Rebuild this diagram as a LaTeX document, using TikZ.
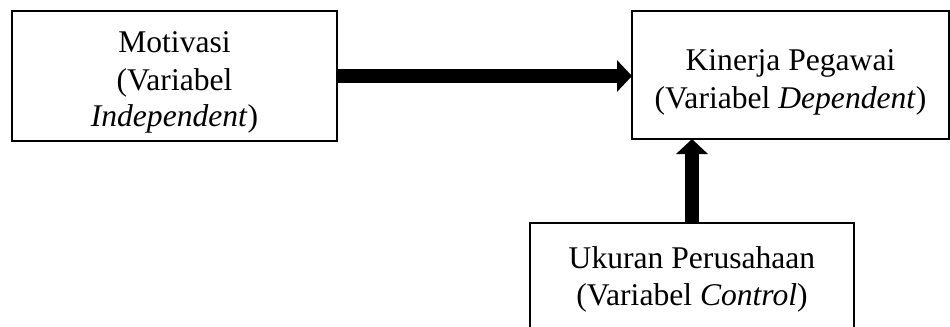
\documentclass[tikz,border=0pt]{standalone}
\usepackage{fontspec}
\setmainfont{Liberation Serif}
\usetikzlibrary{arrows.meta}
\begin{document}
\begin{tikzpicture}[x=0.5pt,y=-0.5pt,
  box/.style={draw, line width=1.2pt, inner sep=0pt, outer sep=0pt},
  txt/.style={anchor=base, inner sep=0pt, font=\fontsize{15.8pt}{19pt}\selectfont},
  bigarrow/.style={line width=7.4pt, -{Triangle[length=7.5pt,width=15.5pt]}}]
\useasboundingbox (0,0) rectangle (950,327);
% boxes
\node[box, minimum width=162.5pt, minimum height=65pt] (mot) at (174.5,76) {};
\node[box, minimum width=158.5pt, minimum height=64pt] (kin) at (790.5,75) {};
\node[box, minimum width=162pt, minimum height=61pt] (uk) at (692,284) {};
% texts
\node[txt] (mot1) at (174.5,52) {Motivasi};
\node[txt] (mot2) at (174.5,90) {(Variabel};
\node[txt] (mot3) at (174.5,126) {\textit{Independent})};
\node[txt] (kin1) at (790.5,70) {Kinerja Pegawai};
\node[txt] (kin2) at (790.5,108) {(Variabel \textit{Dependent})};
\node[txt] (uk1) at (692,268) {Ukuran Perusahaan};
\node[txt] (uk2) at (692,305) {(Variabel \textit{Control})};
% arrows
\draw[bigarrow] (mot.east) -- (mot.east -| kin.west);
\draw[bigarrow] (uk.north) -- (uk.north |- kin.south);
\end{tikzpicture}
\end{document}
